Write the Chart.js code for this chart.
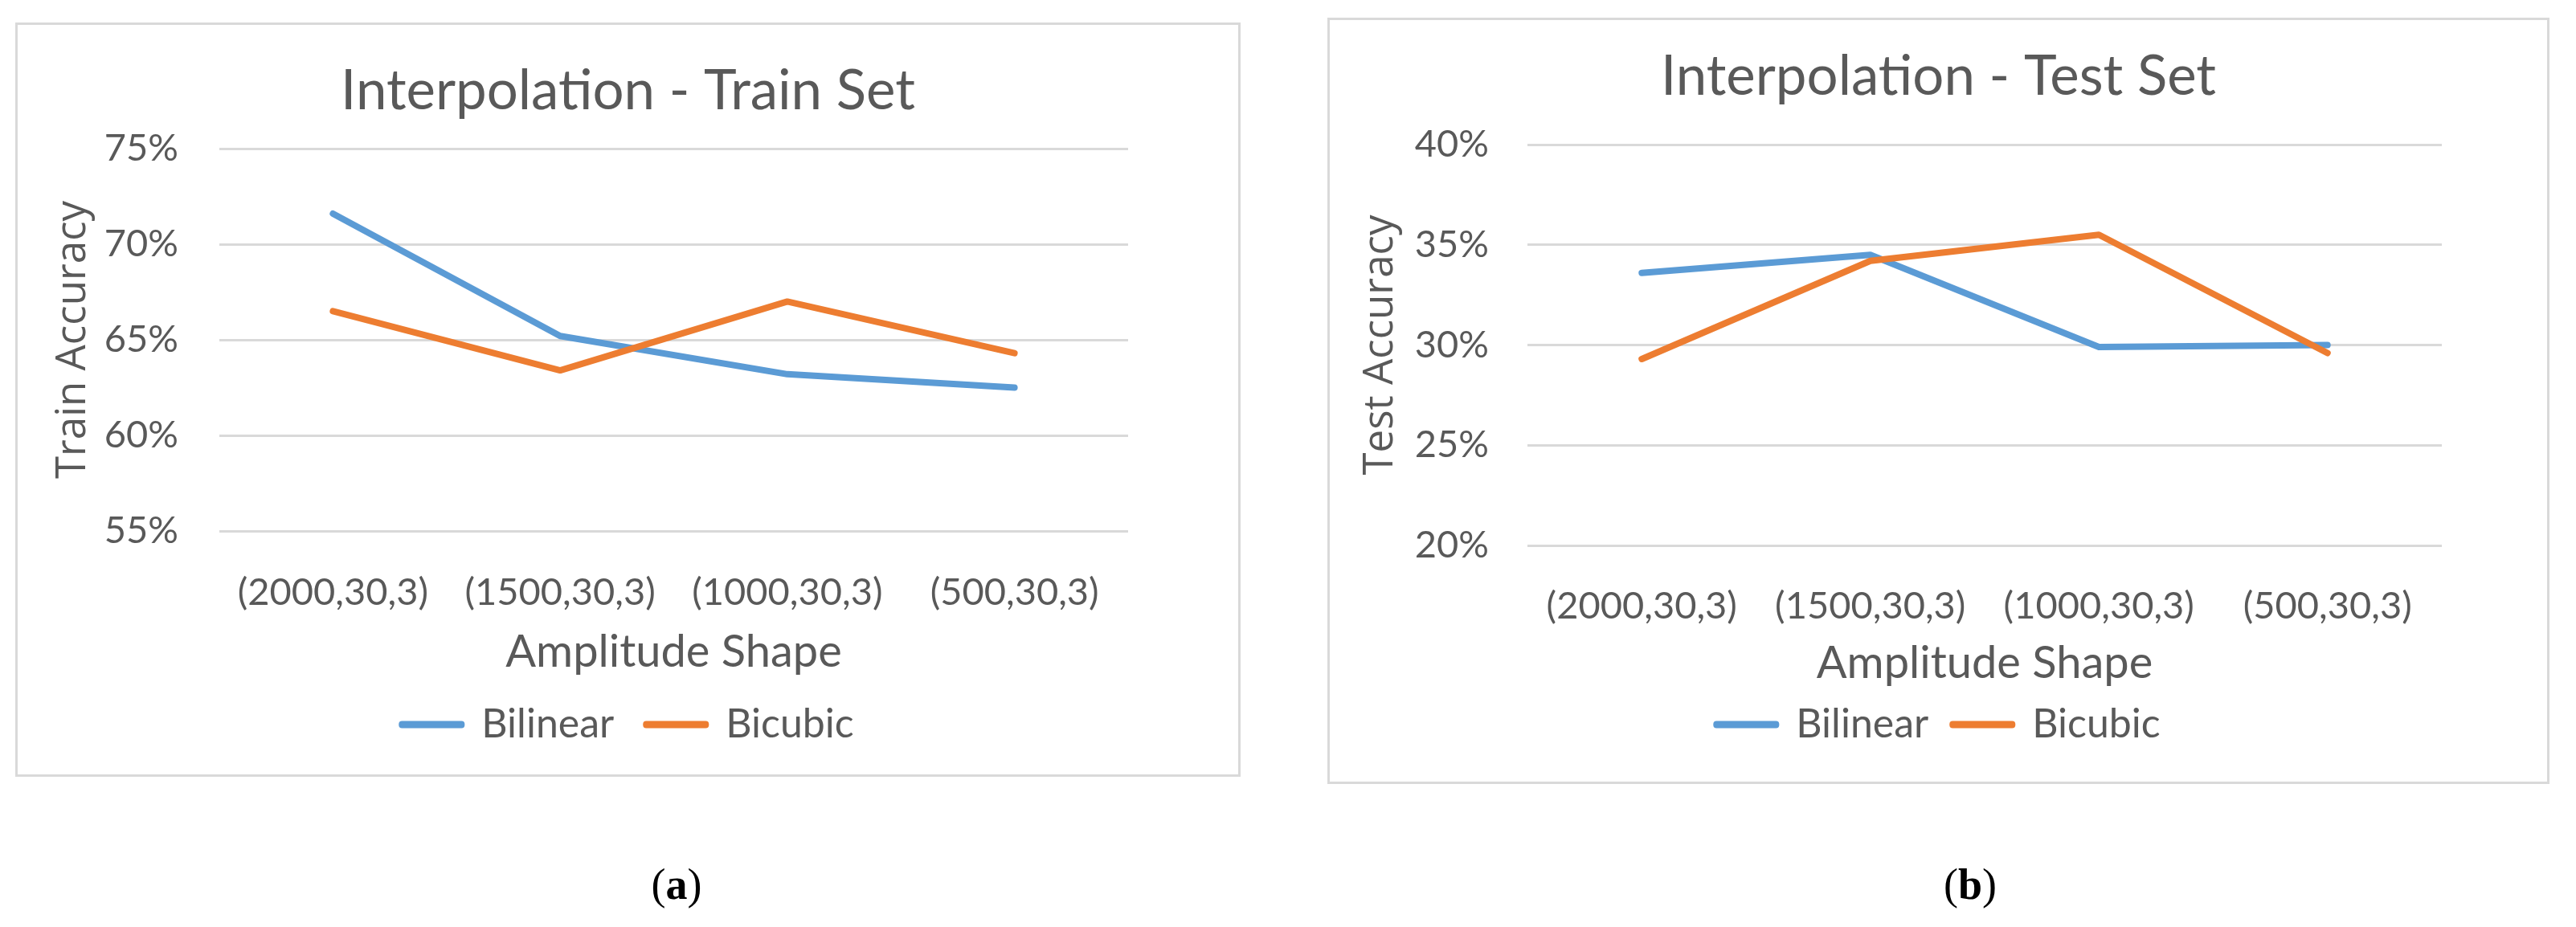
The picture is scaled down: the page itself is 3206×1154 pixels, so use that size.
<!DOCTYPE html>
<html>
<head>
<meta charset="utf-8">
<script src="https://cdn.jsdelivr.net/npm/chart.js@4.4.1/dist/chart.umd.min.js"></script>
<style>
    body { margin: 0; background: #fff; width: 3206px; height: 1154px; position: relative; overflow: hidden; }
    .frame { position: absolute; border: 3px solid #d9d9d9; background: #fff; }
    .frame canvas { display: block; }
    .caption { position: absolute; width: 200px; text-align: center; font-family: "Liberation Serif", serif; font-size: 54px; color: #000; }
</style>
</head>
<body>
<div class="frame" style="left:19px; top:28px;"><canvas id="trainChart" width="1519" height="933"></canvas></div>
<div class="frame" style="left:1652px; top:22px;"><canvas id="testChart" width="1515" height="948"></canvas></div>
<div class="caption" style="left:742px; top:1070px;">(<b>a</b>)</div>
<div class="caption" style="left:2352px; top:1070px;">(<b>b</b>)</div>

<script>
var categories = ['(2000,30,3)', '(1500,30,3)', '(1000,30,3)', '(500,30,3)'];
var seriesNames = ['Bilinear', 'Bicubic'];

// accuracies in percent
var trainBilinear = [71.6, 65.2, 63.2, 62.5];
var trainBicubic = [66.5, 63.4, 67.0, 64.3];
var testBilinear = [33.6, 34.5, 29.9, 30.0];
var testBicubic = [29.3, 34.2, 35.5, 29.6];

var trainRange = [55, 75];
var testRange = [20, 40];
var tickStep = 5;

var textColor = '#595959';
var blue = '#5B9BD5';
var orange = '#ED7D31';
var mainFont = 'Lato, "Open Sans", sans-serif';

function makeChart(id, title, yTitle, bilinear, bicubic, range, lay) {
    var ctx = document.getElementById(id);
    return new Chart(ctx, {
        type: 'line',
        data: {
            labels: categories,
            datasets: [
                { label: seriesNames[0], data: bilinear, borderColor: blue, backgroundColor: blue, order: 1 },
                { label: seriesNames[1], data: bicubic, borderColor: orange, backgroundColor: orange, order: 0 }
            ]
        },
        options: {
            responsive: false,
            animation: false,
            layout: { padding: { left: 0, right: 0, top: 0, bottom: lay.bottom } },
            elements: {
                line: { borderWidth: 8, tension: 0, borderCapStyle: 'round', borderJoinStyle: 'round', fill: false },
                point: { radius: 0, hoverRadius: 0 }
            },
            plugins: {
                title: {
                    display: true,
                    text: title,
                    color: textColor,
                    font: { family: mainFont, size: 69, weight: 'normal', lineHeight: 1.2 },
                    padding: { top: lay.titleTop, bottom: lay.titleBottom }
                },
                legend: {
                    position: 'bottom',
                    labels: {
                        color: textColor,
                        font: { family: mainFont, size: 50 },
                        boxWidth: 74,
                        boxHeight: 1,
                        padding: lay.legendPad,
                        sort: function(a, b) { return a.datasetIndex - b.datasetIndex; }
                    }
                },
                tooltip: { enabled: false }
            },
            scales: {
                x: {
                    offset: true,
                    grid: { display: false },
                    border: { display: false },
                    ticks: { color: textColor, font: { family: mainFont, size: 47, lineHeight: 1.2 }, padding: lay.xTickPad, maxRotation: 0 },
                    title: {
                        display: true,
                        text: 'Amplitude Shape',
                        color: textColor,
                        font: { family: mainFont, size: 56, lineHeight: lay.xTitleLh },
                        padding: { top: 0, bottom: 0 }
                    },
                    afterFit: function(scale) { scale.height = lay.xHeight; }
                },
                y: {
                    min: range[0],
                    max: range[1],
                    grid: { color: '#d9d9d9', lineWidth: 3, drawTicks: false },
                    border: { display: false },
                    ticks: {
                        stepSize: tickStep,
                        color: textColor,
                        font: { family: mainFont, size: 47 },
                        padding: lay.yTickPad,
                        callback: function(v) { return v + '%'; }
                    },
                    title: {
                        display: true,
                        text: yTitle,
                        color: textColor,
                        font: { family: '"Open Sans", sans-serif', size: 51, lineHeight: 1.2 },
                        padding: { top: lay.yTitlePad, bottom: 0 }
                    },
                    afterFit: function(scale) { scale.width = lay.yWidth; }
                },
                // empty axis that keeps the white margin right of the plot
                spacer: {
                    type: 'linear',
                    position: 'right',
                    grid: { display: false },
                    border: { display: false },
                    ticks: { display: false },
                    afterFit: function(scale) { scale.width = lay.right; }
                }
            }
        }
    });
}

makeChart('trainChart', 'Interpolation - Train Set', 'Train Accuracy', trainBilinear, trainBicubic, trainRange, {
    right: 137, bottom: 27, titleTop: 41.6, titleBottom: 29.6, legendPad: 40,
    xTickPad: 41, xHeight: 176, xTitleLh: 0.9, yTickPad: 51, yTitlePad: 38.4, yWidth: 251
});

makeChart('testChart', 'Interpolation - Test Set', 'Test Accuracy', testBilinear, testBicubic, testRange, {
    right: 131, bottom: 36, titleTop: 29.6, titleBottom: 42.6, legendPad: 30,
    xTickPad: 40, xHeight: 168, xTitleLh: 0.75, yTickPad: 48, yTitlePad: 32.4, yWidth: 246
});
</script>
</body>
</html>
